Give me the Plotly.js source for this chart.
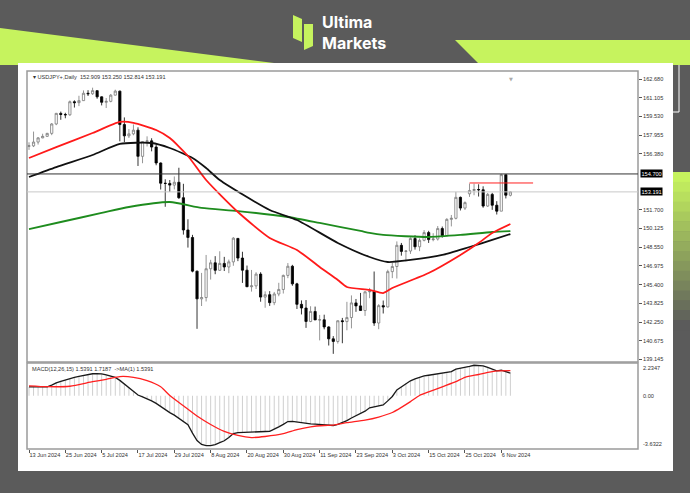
<!DOCTYPE html>
<html><head><meta charset="utf-8">
<script src="https://cdn.plot.ly/plotly-3.0.1.min.js"></script>
<style>html,body{margin:0;padding:0;background:#5b5b5b;}#chart{width:690px;height:493px;}</style>
</head><body><div id="chart"></div>
<script>
// ---------- data ----------
const tickIdx = [0,8,16,24,32,40,48,56,64,72,80,88,96,104];
const tickLabels = ['13 Jun 2024','25 Jun 2024','5 Jul 2024','17 Jul 2024','29 Jul 2024','8 Aug 2024','20 Aug 2024','30 Aug 2024','11 Sep 2024','23 Sep 2024','3 Oct 2024','15 Oct 2024','25 Oct 2024','6 Nov 2024'];

const openP  = [157.03,157.06,157.38,157.73,157.86,158.11,158.90,159.79,159.70,159.67,160.77,160.69,160.86,161.48,161.44,161.70,161.18,160.72,160.80,161.32,161.66,158.85,157.90,158.07,158.38,156.18,157.42,157.48,156.96,155.62,153.92,153.90,153.76,154.00,152.70,149.99,149.36,146.53,144.20,144.31,146.73,147.23,146.60,147.18,146.88,147.31,149.28,147.63,146.61,145.22,145.29,146.28,144.35,144.55,143.88,144.61,144.99,146.17,146.94,145.46,143.74,143.43,142.30,143.14,142.43,142.44,141.84,140.84,140.62,142.36,142.29,142.63,143.86,143.61,143.22,144.79,144.83,142.17,143.63,143.52,146.49,146.92,148.70,148.19,148.22,149.27,148.58,149.12,149.77,149.18,149.23,150.11,149.51,150.88,150.97,152.73,151.83,153.03,153.31,153.39,153.37,152.00,152.98,152.07,151.57,154.64,152.909];
const highP  = [157.36,158.26,157.80,158.08,158.15,158.98,159.83,159.94,159.84,160.87,160.89,161.27,161.72,161.74,161.95,161.73,161.22,161.08,161.42,161.78,161.70,159.45,158.47,158.86,158.62,157.45,157.86,157.70,157.17,155.67,154.25,154.19,154.49,155.22,153.87,150.89,149.58,146.57,146.38,147.89,147.48,147.79,148.20,147.73,147.50,149.39,149.32,148.16,147.00,146.63,146.44,146.44,144.83,144.85,144.78,145.55,146.24,147.21,147.06,145.55,144.07,144.10,143.58,143.55,142.85,142.87,141.90,141.07,142.39,142.60,143.95,144.49,144.19,144.70,144.84,145.12,146.50,143.76,144.06,146.65,147.24,149.03,148.90,148.28,149.37,149.55,149.28,149.98,149.92,149.72,150.32,150.28,150.98,151.25,153.19,152.80,152.39,153.89,153.88,153.83,153.66,153.10,153.11,152.41,154.71,154.65,153.250];
const lowP   = [156.72,156.96,157.17,157.70,157.82,157.96,158.80,159.25,159.38,159.58,160.28,160.40,160.84,161.25,161.34,161.02,160.46,160.24,160.72,161.30,157.44,157.38,157.72,157.95,155.37,155.60,157.01,156.60,155.43,153.39,151.94,153.19,153.40,152.60,149.60,148.51,146.43,141.68,143.60,143.98,145.82,146.27,146.55,146.54,146.36,146.98,147.37,145.54,145.19,144.81,145.03,143.96,143.45,143.61,143.67,144.42,144.65,145.94,145.30,143.35,142.89,141.76,142.24,142.49,140.71,141.64,140.28,139.58,140.44,140.47,141.56,141.72,143.11,143.40,142.77,144.26,141.93,141.65,142.97,143.48,145.94,145.91,147.83,147.35,147.98,148.34,148.21,149.03,148.90,149.04,149.10,149.35,149.47,150.29,150.88,151.63,151.67,152.77,152.91,152.80,151.86,151.93,151.68,151.29,151.57,152.64,152.814];
const closeP = [157.06,157.38,157.73,157.86,158.11,158.90,159.79,159.70,159.67,160.77,160.69,160.86,161.48,161.44,161.70,161.18,160.72,160.80,161.32,161.66,158.85,157.90,158.07,158.38,156.18,157.42,157.48,156.96,155.62,153.92,153.90,153.76,154.00,152.70,149.99,149.36,146.53,144.20,144.31,146.73,147.23,146.60,147.18,146.88,147.31,149.30,147.63,146.61,145.22,145.29,146.28,144.35,144.55,143.88,144.61,144.99,146.17,146.94,145.46,143.74,143.43,142.30,143.14,142.43,142.44,141.84,140.84,140.62,142.36,142.29,142.63,143.86,143.61,143.22,144.79,144.83,142.17,143.63,143.52,146.49,146.92,148.70,148.19,148.22,149.27,148.58,149.12,149.77,149.18,149.23,150.11,149.51,150.88,150.97,152.73,151.83,152.29,153.31,153.39,153.37,152.00,152.98,152.07,151.57,154.64,152.91,153.191];

// moving averages (bar index, price)
const maRedX   = [0,6,14,20,23,28,31,35,39,46,53,59,64,68,70,75,78,80,88,95,99,102,106];
const maRedV   = [156.04,156.96,158.14,159.07,159.00,158.39,157.72,156.21,154.19,151.50,149.32,148.31,146.88,145.79,145.20,144.95,144.69,145.11,146.37,147.89,148.89,149.74,150.49];
const maBlackX = [0,6,14,20,27,31,36,39,42,53,59,68,75,79,84,91,97,102,106];
const maBlackV = [154.44,155.28,156.29,157.22,157.30,156.88,156.04,155.20,154.19,151.67,150.83,148.90,147.72,147.30,147.47,147.89,148.56,149.15,149.65];
const maGreenX = [0,7,16,22,31,38,46,57,64,73,75,78,88,95,102,106];
const maGreenV = [150.07,150.66,151.42,151.92,152.34,151.84,151.58,151.08,150.58,149.91,149.74,149.57,149.40,149.57,149.82,149.90];

// MACD main (one value per bar) and signal line
const macdV = [0.60,0.60,0.61,0.61,0.61,0.72,0.88,0.98,1.08,1.18,1.26,1.32,1.38,1.45,1.50,1.50,1.49,1.42,1.34,1.25,1.05,0.80,0.55,0.30,0.05,-0.08,-0.20,-0.35,-0.52,-0.75,-0.98,-1.15,-1.32,-1.55,-1.80,-1.98,-2.55,-3.05,-3.32,-3.40,-3.40,-3.33,-3.20,-3.07,-2.85,-2.58,-2.52,-2.50,-2.48,-2.47,-2.46,-2.45,-2.44,-2.43,-2.30,-2.12,-1.95,-1.76,-1.75,-1.80,-1.80,-1.87,-1.92,-1.94,-1.95,-1.97,-2.00,-2.03,-1.95,-1.85,-1.70,-1.52,-1.35,-1.20,-1.05,-0.82,-0.77,-0.72,-0.63,-0.35,-0.05,0.40,0.62,0.85,1.02,1.15,1.26,1.35,1.40,1.45,1.50,1.53,1.57,1.65,1.82,1.87,1.93,2.00,2.08,2.08,2.04,1.93,1.80,1.70,1.74,1.62,1.54];
const sigX = [0,4,9,14,17,20,23,26,29,31,34,37,40,43,46,49,52,56,59,62,65,67,70,74,77,80,82,84,86,88,91,94,96,99,101,103,106];
const sigV = [0.68,0.62,0.65,0.96,1.12,1.31,1.26,1.03,0.61,0.02,-0.68,-1.38,-1.96,-2.43,-2.71,-2.85,-2.78,-2.59,-2.31,-2.12,-2.03,-2.01,-1.84,-1.66,-1.45,-1.14,-0.79,-0.40,0.02,0.26,0.61,0.96,1.26,1.45,1.59,1.70,1.72];

const priceTicks = [162.680,161.105,159.530,157.955,156.380,151.700,150.125,148.550,146.975,145.400,143.825,142.250,140.675,139.145];
const resistance = 154.700, lastPrice = 153.191, redLevel = 153.94;
const redLevelFrom = 97, redLevelTo = 111;

// ---------- layout helpers (pixel -> paper) ----------
const W = 690, H = 493;
const px = x => x / W, py = y => 1 - y / H;
const bars = openP.map((_, i) => i);
const pathPx = pts => 'M ' + pts.map(p => px(p[0]).toFixed(5) + ',' + py(p[1]).toFixed(5)).join(' L ') + ' Z';

const LIME = '#c6f35e', DARK = '#5b5b5b';
const shapes = [
  {type:'path', xref:'paper', yref:'paper', path: pathPx([[0,28],[0,65],[290,65]]), fillcolor:LIME, line:{width:0}, layer:'below'},
  {type:'path', xref:'paper', yref:'paper', path: pathPx([[455,40],[690,40],[690,65],[480,65]]), fillcolor:LIME, line:{width:0}, layer:'below'}
];
// right-edge lime gradient strip (decorative)
const gradTop = 172, gradBot = 330, steps = 16;
for (let k = 0; k < steps; k++) {
  const t = k / (steps - 1);
  const mix = (a, b) => Math.round(a + (b - a) * t);
  const col = `rgb(${mix(0xc6,0x5b)},${mix(0xf3,0x5b)},${mix(0x5e,0x5b)})`;
  const y0 = gradTop + (gradBot - gradTop) * k / steps, y1 = gradTop + (gradBot - gradTop) * (k + 1) / steps;
  shapes.push({type:'rect', xref:'paper', yref:'paper', x0:px(673), x1:1, y0:py(y1 + 0.5), y1:py(y0), fillcolor:col, line:{width:0}, layer:'below'});
}
shapes.push(
  {type:'path', xref:'paper', yref:'paper', path: 'M ' + px(679) + ',' + py(65) + ' L ' + px(679) + ',' + py(112) + ' L ' + px(673) + ',' + py(112), line:{color:'#ffffff', width:1}},
  // logo marks
  {type:'path', xref:'paper', yref:'paper', path: pathPx([[293,15],[302,19],[302,42],[293,38]]), fillcolor:LIME, line:{width:0}},
  {type:'path', xref:'paper', yref:'paper', path: pathPx([[304,24],[313,24],[313,46],[304,50]]), fillcolor:LIME, line:{width:0}},
  // white card
  {type:'rect', xref:'paper', yref:'paper', x0:px(18), x1:px(673), y0:py(471), y1:py(63), fillcolor:'#ffffff', line:{width:0}, layer:'below'},
  // panel frames
  {type:'rect', xref:'paper', yref:'paper', x0:px(27), x1:px(638), y0:py(362), y1:py(71), line:{color:'#9a9a9a', width:1.5}},
  {type:'rect', xref:'paper', yref:'paper', x0:px(27), x1:px(638), y0:py(449), y1:py(363), line:{color:'#9a9a9a', width:1.5}},
  // horizontal levels
  {type:'line', xref:'paper', yref:'y', x0:px(27), x1:px(638), y0:lastPrice, y1:lastPrice, line:{color:'#c8c8c8', width:1}},
  {type:'line', xref:'paper', yref:'y', x0:px(27), x1:px(638), y0:resistance, y1:resistance, line:{color:'#333333', width:1}},
  {type:'line', xref:'x', yref:'y', x0:redLevelFrom, x1:redLevelTo, y0:redLevel, y1:redLevel, line:{color:'#ff2020', width:1}}
);

const tf = {family:'Liberation Sans, Arial, sans-serif', size:5.6, color:'#333333'};
const annotations = [
  {xref:'paper', yref:'paper', x:px(320), y:py(33), text:'<b>Ultima</b><br><b>Markets</b>', showarrow:false, align:'left', xanchor:'left', yanchor:'middle', font:{family:'Inter, Roboto, sans-serif', size:16, color:'#ffffff'}},
  {xref:'paper', yref:'paper', x:px(31), y:py(77), text:'▾ USDJPY+,Daily  152.909 153.250 152.814 153.191', showarrow:false, xanchor:'left', yanchor:'middle', font:tf},
  {xref:'paper', yref:'paper', x:px(30), y:py(369), text:'MACD(12,26,15) 1.5391 1.7187  ->MA(1) 1.5391', showarrow:false, xanchor:'left', yanchor:'middle', font:tf},
  {xref:'paper', yref:'paper', x:px(515), y:py(74), text:'▼', showarrow:false, font:{family:'DejaVu Sans', size:5, color:'#aaaaaa'}},
  {xref:'paper', yref:'y', x:px(640), y:resistance, text:'154.700', showarrow:false, xanchor:'left', yanchor:'middle', bgcolor:'#000000', borderpad:0.5, font:{family:tf.family, size:5.6, color:'#ffffff'}},
  {xref:'paper', yref:'y', x:px(640), y:lastPrice, text:'153.191', showarrow:false, xanchor:'left', yanchor:'middle', bgcolor:'#000000', borderpad:0.5, font:{family:tf.family, size:5.6, color:'#ffffff'}},
  {xref:'paper', yref:'paper', x:px(641), y:py(363), text:'2.2347', showarrow:false, xanchor:'left', yanchor:'top', font:tf},
  {xref:'paper', yref:'y2', x:px(641), y:0, text:'0.00', showarrow:false, xanchor:'left', yanchor:'middle', font:tf},
  {xref:'paper', yref:'paper', x:px(641), y:py(449), text:'-3.6322', showarrow:false, xanchor:'left', yanchor:'bottom', font:tf}
];

const traces = [
  {type:'bar', x:bars, y:macdV, xaxis:'x', yaxis:'y2', width:0.22, marker:{color:'#cfcfcf', line:{width:0}}, hoverinfo:'skip'},
  {type:'scatter', mode:'lines', x:bars, y:macdV, xaxis:'x', yaxis:'y2', line:{color:'#1a1a1a', width:1.3}},
  {type:'scatter', mode:'lines', x:sigX, y:sigV, xaxis:'x', yaxis:'y2', line:{color:'#ff2020', width:1.3, shape:'spline', smoothing:0.6}},
  {type:'scatter', mode:'lines', x:maGreenX, y:maGreenV, xaxis:'x', yaxis:'y', line:{color:'#1e8c1e', width:1.8, shape:'spline', smoothing:0.6}},
  {type:'scatter', mode:'lines', x:maBlackX, y:maBlackV, xaxis:'x', yaxis:'y', line:{color:'#111111', width:1.8, shape:'spline', smoothing:0.6}},
  {type:'scatter', mode:'lines', x:maRedX, y:maRedV, xaxis:'x', yaxis:'y', line:{color:'#ff1a1a', width:1.8, shape:'spline', smoothing:0.6}},
  {type:'candlestick', x:bars, open:openP, high:highP, low:lowP, close:closeP, xaxis:'x', yaxis:'y', whiskerwidth:0,
   increasing:{line:{color:'#7a7a7a', width:0.8}, fillcolor:'#ffffff'},
   decreasing:{line:{color:'#000000', width:0.8}, fillcolor:'#000000'}}
];

const layout = {
  width:W, height:H, margin:{l:0, r:0, t:0, b:0},
  paper_bgcolor:DARK, plot_bgcolor:'rgba(0,0,0,0)', showlegend:false,
  xaxis:{domain:[px(27), px(638)], range:[-0.44, 134.1], anchor:'y2', showgrid:false, zeroline:false,
         tickvals:tickIdx, ticktext:tickLabels, ticks:'outside', ticklen:3, tickcolor:'#555', tickwidth:1, tickangle:0,
         ticklabelposition:'outside right', tickfont:tf, rangeslider:{visible:false}, showline:false},
  yaxis:{domain:[py(362), py(71)], range:[138.893, 163.352], side:'right', anchor:'x', showgrid:false, zeroline:false,
         tickvals:priceTicks, ticktext:priceTicks.map(v => v.toFixed(3)), ticks:'outside', ticklen:3, tickcolor:'#555', tickfont:tf},
  yaxis2:{domain:[py(449), py(363)], range:[-3.6322, 2.2347], side:'right', anchor:'x', showgrid:false, zeroline:false, showticklabels:false, ticks:''},
  shapes, annotations
};

Plotly.newPlot('chart', traces, layout, {staticPlot:true, displayModeBar:false});
</script></body></html>
